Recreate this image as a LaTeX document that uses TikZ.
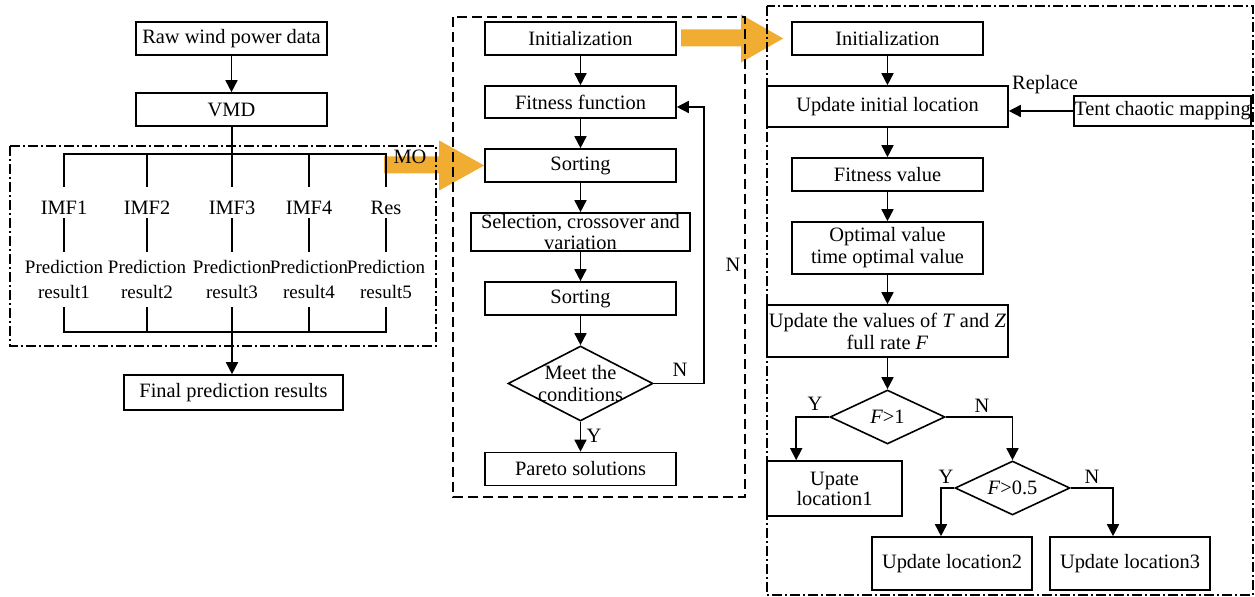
\documentclass[tikz,border=0pt]{standalone}
\usepackage{fontspec}
\setmainfont{Liberation Serif}
\usetikzlibrary{arrows.meta,shapes.geometric}
\definecolor{gold}{HTML}{F0AD32}

\begin{document}
\begin{tikzpicture}[x=0.5pt,y=-0.5pt,
  font=\fontsize{10.2}{11}\selectfont,
  box/.style={draw,line width=0.8pt,inner sep=0pt,align=center},
  dia/.style={draw,diamond,shape aspect=2.1,line width=0.8pt,inner sep=0pt,minimum width=57.5pt,minimum height=27pt},
  arr/.style={-{Triangle[length=6pt,width=6pt]},line width=0.8pt},
  ln/.style={line width=0.8pt},
  dashdot/.style={line width=0.8pt,dash pattern=on 5pt off 1.5pt on 1pt off 1.5pt}]
\useasboundingbox (0,0) rectangle (1255,597);

% left: decomposition and prediction
\node[box,minimum width=95.5pt,minimum height=16.5pt] (raw) at (231.5,38.5) {Raw wind power data};
\node[box,minimum width=95.5pt,minimum height=16.5pt] (vmd) at (231.5,109.5) {VMD};
\coordinate (top) at (0,154);
\coordinate (bot) at (0,332);
\foreach \x/\n/\t in {64/1/IMF1,147/2/IMF2,232/3/IMF3,309/4/IMF4,386/5/Res}{
  \node[anchor=base,inner sep=0pt,text height=14pt,text depth=1.5pt] (imf\n) at (\x,215) {\t};
  \node[anchor=north,align=center,inner xsep=0pt,inner ysep=4pt,font=\fontsize{9.5}{12.5}\selectfont] (pr\n) at (\x,252) {Prediction\\result\n};
  \draw[ln] (imf\n.south) -- (pr\n.north);
}
\node[box,minimum width=109.5pt,minimum height=17.5pt] (final) at (233.5,392.5) {Final prediction results};

% middle: NSGA
\node[box,minimum width=95.5pt,minimum height=16.5pt] (init) at (580.5,38.5) {Initialization};
\node[box,minimum width=95.5pt,minimum height=16pt] (fit) at (580.5,102) {Fitness function};
\node[box,minimum width=95.5pt,minimum height=16.5pt] (sort1) at (580.5,165.5) {Sorting};
\node[box,minimum width=109.5pt,minimum height=19pt,font=\fontsize{10.2}{10.5}\selectfont] (sel) at (580.5,232) {Selection, crossover and\\variation};
\node[box,minimum width=95.5pt,minimum height=16.5pt] (sort2) at (580.5,298.5) {Sorting};
\node[dia,minimum width=72.5pt,minimum height=37.5pt] (cond) at (580.5,383.5) {};
\node[align=center] (condtext) at (cond) {Meet the\\conditions};
\node[box,minimum width=95.5pt,minimum height=16.5pt] (pareto) at (580.5,469) {Pareto solutions};

% right: improved search
\node[box,minimum width=95.5pt,minimum height=16.5pt] (init2) at (887.5,38.5) {Initialization};
\node[box,minimum width=120.5pt,minimum height=20.5pt] (upd) at (887.5,106.5) {Update initial location};
\node[box,minimum width=87.5pt,minimum height=15pt] (tent) at (1162.5,111) {Tent chaotic mapping};
\node[box,minimum width=95.5pt,minimum height=16.5pt] (fitv) at (887.5,174.5) {Fitness value};
\node[box,minimum width=95.5pt,minimum height=26pt] (opt) at (887.5,248) {Optimal value\\time optimal value};
\node[box,minimum width=120.5pt,minimum height=26pt] (tz) at (887.5,331) {Update the values of \textit{T} and \textit{Z}\\full rate \textit{F}};
\node[dia] (d1) at (887.5,417) {\textit{F}>1};
\node[dia] (d2) at (1012.5,488) {\textit{F}>0.5};
\node[box,minimum width=67.5pt,minimum height=27.5pt,font=\fontsize{10.2}{10}\selectfont] (loc1) at (834.5,488.5) {Upate\\location1};
\node[box,minimum width=80pt,minimum height=26.5pt] (loc2) at (952,563.5) {Update location2};
\node[box,minimum width=80pt,minimum height=26.5pt] (loc3) at (1130,563.5) {Update location3};

% orange transfer arrows
\fill[gold] (sort1.west) -- ++(-45,-25) -- ++(0,16) -- ++(-55,0) -- ++(0,17) -- ++(55,0) -- ++(0,17) -- cycle;
\fill[gold] ([xshift=-4pt]init2.west) -- ++(-42,-24) -- ++(0,15) -- ++(-60,0) -- ++(0,17) -- ++(60,0) -- ++(0,16) -- cycle;
\node (mo) at (410,157) {MO};

% frames
\draw[dashdot] (10,146) rectangle (436,346);
\draw[ln,dash pattern=on 5pt off 2.5pt] (453,17) rectangle (745,497);
\draw[dashdot] (767,6) rectangle (1253,595);

% connectors left
\draw[arr] (raw) -- (vmd);
\draw[ln] (imf3.north |- vmd.south) -- (imf3.north);
\draw[ln] (imf1.north) |- (top -| imf5.north) -- (imf5.north);
\foreach \n in {2,4}{
  \draw[ln] (imf\n.north) -- (top -| imf\n.north);
}
\draw[ln] (pr1.south) |- (bot -| pr5.south) -- (pr5.south);
\foreach \n in {2,4}{
  \draw[ln] (pr\n.south) -- (bot -| pr\n.south);
}
\draw[arr] (pr3.south) -- (pr3.south |- final.north);

% connectors middle
\draw[arr] (init) -- (fit);
\draw[arr] (fit) -- (sort1);
\draw[arr] (sort1) -- (sel);
\draw[arr] (sel) -- (sort2);
\draw[arr] (sort2) -- (cond);
\draw[arr] (cond) -- (pareto);
\draw[arr] (cond.east) -- ++(50,0) |- ([yshift=-2.5pt]fit.east);
\node at (680,370) {N};
\node at (733,265) {N};
\node at (594,436) {Y};

% connectors right
\draw[arr] (init2) -- (upd);
\draw[arr] (tent.west) -- (tent.west -| upd.east);
\node at (1045,85) {Replace};
\draw[arr] (upd) -- (fitv);
\draw[arr] (fitv) -- (opt);
\draw[arr] (opt) -- (tz);
\draw[arr] (tz) -- (d1);
\draw[arr] (d1.west) -| ([xshift=15pt]loc1.north west);
\draw[arr] (d1.east) -| (d2.north);
\draw[arr] (d2.west) -| ([xshift=-5.5pt]loc2.north);
\draw[arr] (d2.east) -| ([xshift=-8.5pt]loc3.north);
\node at (815,404) {Y};
\node at (982,406) {N};
\node at (946,477) {Y};
\node at (1092,477) {N};
\end{tikzpicture}
\end{document}
